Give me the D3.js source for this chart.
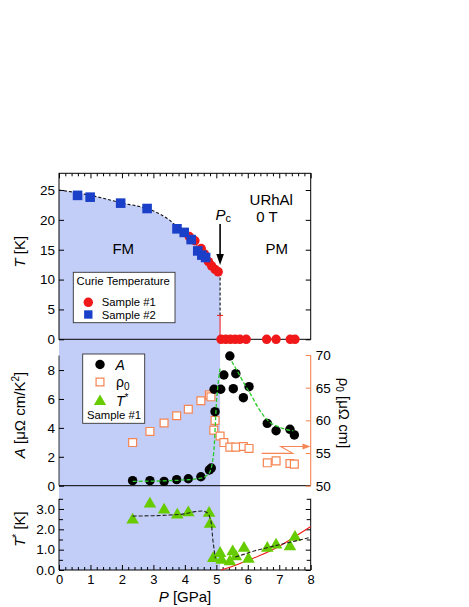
<!DOCTYPE html>
<html><head><meta charset="utf-8">
<script src="https://cdn.jsdelivr.net/npm/d3@7"></script>
<style>
body{margin:0;background:#fff}
svg{display:block}
text{font-family:"Liberation Sans",Arial,Helvetica,sans-serif;fill:#000}
</style>
</head><body>
<svg id="c" width="469" height="607"></svg>
<script>
// ---------- data ----------
const pressureTicks = [0,1,2,3,4,5,6,7,8];
const tcTicks = [0,5,10,15,20,25];
const aTicks = [0,2,4,6,8];
const rhoTicks = [50,55,60,65,70];
const tstarTicks = [0,1,2,3];
const tstarLabels = ["0.0","1.0","2.0","3.0"];
const pcValue = 5.12;
const pcErrorBar = [0, 4.0];

// Curie temperature [P, T]
const tcSample1 = [[4.14,17.2],[4.32,16.5],[4.52,15.2],[4.62,14.3],[4.75,13.0],[4.85,12.3],[4.96,11.7],[5.06,11.3]];
const tcSample1Zero = [5.15,5.3,5.45,5.6,5.75,5.95,6.6,6.9,7.35,7.5];
const tcSample2 = [[0.59,24.1],[0.99,23.8],[1.96,22.8],[2.80,21.9],[3.75,18.5],[3.98,17.9],[4.20,16.7],[4.41,14.8],[4.54,14.1],[4.66,13.7]];
const tcBoundary = [[0,25],[0.5,24.6],[1,24.1],[1.5,23.5],[2,22.8],[2.5,22.3],[2.8,21.9],[3.0,21.5],[3.5,20.0],[3.75,18.9],[4.0,17.9],[4.2,16.9],[4.4,15.7],[4.6,14.3],[4.8,12.8],[5.0,11.6],[5.12,11.2]];

// A coefficient [P, A]
const coeffA = [[2.34,0.35],[2.89,0.35],[3.34,0.30],[3.74,0.42],[4.11,0.48],[4.51,0.62],[4.78,1.09],[4.84,1.22],[4.96,5.12],[4.93,6.67],[5.14,6.67],[5.24,7.66],[5.43,8.97],[5.54,6.71],[5.62,7.75],[5.86,6.09],[6.04,6.85],[6.62,4.31],[6.90,3.80],[7.34,3.90],[7.48,3.51]];
// residual resistivity [P, rho0]
const rho0 = [[2.34,56.6],[2.89,58.3],[3.34,59.6],[3.74,60.7],[4.11,61.7],[4.51,63.0],[4.78,63.9],[4.83,63.6],[4.96,60.0],[4.92,58.5],[5.12,57.6],[5.24,56.6],[5.43,55.9],[5.62,55.9],[5.86,56.0],[6.04,55.7],[6.62,53.5],[6.90,53.8],[7.34,53.4],[7.48,53.3]];
const fitA1 = [[2.34,0.30],[3.0,0.32],[3.5,0.35],[4.0,0.40],[4.4,0.48],[4.6,0.58],[4.7,0.72],[4.8,0.97],[4.87,1.55],[4.94,2.93],[4.97,4.3],[5.0,5.6],[5.05,6.9],[5.12,8.1]];
const fitA2 = [[5.49,8.6],[5.7,7.8],[5.9,7.0],[6.1,6.3],[6.3,5.5],[6.5,4.85],[6.7,4.4],[7.0,4.05],[7.2,3.9],[7.45,3.8]];
const rhoArrow = [[6.44,54.95],[7.43,54.95],[7.05,56.0],[7.93,56.0]];

// T* [P, T*]
const tStar = [[2.34,2.46],[2.89,3.25],[3.34,2.95],[3.76,2.71],[4.11,2.82],[4.77,2.79],[4.80,2.25],[4.90,0.57],[5.12,0.82],[5.17,0.49],[5.43,0.41],[5.52,0.90],[5.62,0.66],[5.88,1.07],[6.02,0.54],[6.62,1.07],[6.90,1.23],[7.34,1.15],[7.50,1.61]];
const fitTStar1 = [[2.34,2.65],[3.0,2.67],[3.5,2.70],[4.0,2.76],[4.32,2.87],[4.55,2.9],[4.72,2.8],[4.8,2.55],[4.85,2.2],[4.88,1.64],[4.94,0.9],[4.97,0.57]];
const fitTStar2 = [[5.6,0.64],[5.9,0.78],[6.12,0.9],[6.5,1.05],[6.97,1.23],[7.5,1.42],[8.0,1.61]];
const fitTStarRed = [[5.15,0],[5.5,0.17],[5.9,0.41],[6.4,0.72],[7.0,1.17],[7.5,1.64],[8.0,2.13]];

// ---------- drawing ----------
const svg = d3.select("#c");
const x = d3.scaleLinear([0,8],[59,310.7]);
const yT = d3.scaleLinear([0,25],[339.3,190]);
const yTtop = 173.3;
const yA = d3.scaleLinear([0,9],[485.7,355.6]);
const yR = d3.scaleLinear([50,70],[485.7,355]);
const yS = d3.scaleLinear([0,3.5],[570,498.8]);

const FILL = "#c2cdf8", RED = "#f01818", BLUE = "#1a3fc8", GREEN = "#66cc00",
      GDASH = "#2ccb2c", ORANGE = "#f58552";
const tickFont = "13.5px";

// blue FM region
svg.append("path")
  .attr("d", d3.area().x(d=>x(d[0])).y0(yT(0)).y1(d=>yT(d[1]))(tcBoundary))
  .attr("fill", FILL);
svg.append("rect").attr("x", x(0)).attr("y", yT(0))
  .attr("width", x(pcValue)-x(0)).attr("height", yS(0)-yT(0)).attr("fill", FILL);

function styleAxis(g, color, fs) {
  g.select(".domain").remove();
  g.selectAll(".tick line").attr("stroke", color || "#000");
  g.selectAll(".tick text").attr("font-size", fs || tickFont).attr("font-family", '"Liberation Sans",Arial,sans-serif').attr("fill","#000");
}
const line = (sx, sy) => d3.line().x(d=>sx(d[0])).y(d=>sy(d[1])).curve(d3.curveMonotoneX);

// ===== TOP PANEL =====
svg.append("rect").attr("x", x(0)).attr("y", yTtop).attr("width", x(8)-x(0)).attr("height", yT(0)-yTtop)
  .attr("fill","none").attr("stroke","#000").attr("stroke-width",1);
svg.append("g").attr("transform",`translate(0,${yTtop})`)
  .call(d3.axisTop(x).tickValues(d3.range(0,8.001,0.2).filter(v=>Math.abs(v-Math.round(v))>0.01)).tickSize(-3).tickFormat(""))
  .call(g=>styleAxis(g));
svg.append("g").attr("transform",`translate(0,${yTtop})`)
  .call(d3.axisTop(x).tickValues(pressureTicks).tickSize(-5).tickFormat(""))
  .call(g=>styleAxis(g));
svg.append("g").attr("transform",`translate(${x(0)},0)`)
  .call(d3.axisLeft(yT).tickValues(tcTicks).tickSize(-5).tickPadding(4))
  .call(g=>styleAxis(g));
svg.append("g").attr("transform",`translate(${x(8)},0)`)
  .call(d3.axisRight(yT).tickValues(tcTicks).tickSize(-5).tickFormat(""))
  .call(g=>styleAxis(g));

svg.append("path").attr("d", d3.line().x(d=>x(d[0])).y(d=>yT(d[1])).curve(d3.curveMonotoneX)(tcBoundary))
  .attr("fill","none").attr("stroke","#111").attr("stroke-width",1.1).attr("stroke-dasharray","3,2");
svg.append("line").attr("x1",x(pcValue)).attr("x2",x(pcValue)).attr("y1",yT(11.2)).attr("y2",yT(pcErrorBar[1]))
  .attr("stroke","#111").attr("stroke-width",1.1).attr("stroke-dasharray","3,2");
svg.append("line").attr("x1",x(pcValue)).attr("x2",x(pcValue)).attr("y1",yT(pcErrorBar[0])).attr("y2",yT(pcErrorBar[1]))
  .attr("stroke",RED).attr("stroke-width",1);
svg.append("line").attr("x1",x(pcValue)-3).attr("x2",x(pcValue)+3).attr("y1",yT(pcErrorBar[1])).attr("y2",yT(pcErrorBar[1]))
  .attr("stroke",RED).attr("stroke-width",1);

const circ = d3.symbol().type(d3.symbolCircle).size(70);
svg.append("g").selectAll("path").data(tcSample1).join("path")
  .attr("d", circ).attr("transform", d=>`translate(${x(d[0])},${yT(d[1])})`).attr("fill",RED);
svg.append("g").selectAll("path").data(tcSample1Zero).join("path")
  .attr("d", circ).attr("transform", d=>`translate(${x(d)},${yT(0)})`).attr("fill",RED);
const sq = d3.symbol().type(d3.symbolSquare).size(92);
svg.append("g").selectAll("path").data(tcSample2).join("path")
  .attr("d", sq).attr("transform", d=>`translate(${x(d[0])},${yT(d[1])})`).attr("fill",BLUE);

svg.append("text").attr("x",123.3).attr("y",253.5).attr("text-anchor","middle").attr("font-size","15px").text("FM");
svg.append("text").attr("x",276.7).attr("y",253.5).attr("text-anchor","middle").attr("font-size","15px").text("PM");
svg.append("text").attr("x",271.3).attr("y",204.8).attr("text-anchor","middle").attr("font-size","15px").text("URhAl");
svg.append("text").attr("x",267).attr("y",222).attr("text-anchor","middle").attr("font-size","15px").text("0 T");
const pcT = svg.append("text").attr("x",215.5).attr("y",220).attr("font-size","15px");
pcT.append("tspan").attr("font-style","italic").text("P");
pcT.append("tspan").attr("font-size","11px").attr("dy",2).text("c");
svg.append("line").attr("x1",x(pcValue)).attr("x2",x(pcValue)).attr("y1",224).attr("y2",256)
  .attr("stroke","#000").attr("stroke-width",1.6);
svg.append("path").attr("d",`M${x(pcValue)-3.8},254 L${x(pcValue)+3.8},254 L${x(pcValue)},265 Z`).attr("fill","#000");

const tl = svg.append("text").attr("transform","translate(24.5,251.7) rotate(-90)").attr("text-anchor","middle").attr("font-size","15px");
tl.append("tspan").attr("font-style","italic").text("T");
tl.append("tspan").text(" [K]");

svg.append("rect").attr("x",73.3).attr("y",272.3).attr("width",101.7).attr("height",50.4)
  .attr("fill","#fff").attr("stroke","#333").attr("stroke-width",0.9);
svg.append("text").attr("x",76.5).attr("y",284.8).attr("font-size","11.3px").text("Curie Temperature");
svg.append("path").attr("d",circ).attr("transform","translate(88.3,302.3)").attr("fill",RED);
svg.append("text").attr("x",101.7).attr("y",306.3).attr("font-size","11.3px").text("Sample #1");
svg.append("path").attr("d",d3.symbol().type(d3.symbolSquare).size(70)).attr("transform","translate(88.3,314.5)").attr("fill",BLUE);
svg.append("text").attr("x",101.7).attr("y",318.6).attr("font-size","11.3px").text("Sample #2");

// ===== MIDDLE PANEL =====
svg.append("line").attr("x1",x(0)).attr("x2",x(8)).attr("y1",yA(0)).attr("y2",yA(0)).attr("stroke","#000");
svg.append("line").attr("x1",x(0)).attr("x2",x(0)).attr("y1",yA(0)).attr("y2",yA(9)).attr("stroke","#000").attr("stroke-width",0.8);
svg.append("g").attr("transform",`translate(${x(0)},0)`)
  .call(d3.axisLeft(yA).tickValues(aTicks).tickSize(-5).tickPadding(4))
  .call(g=>styleAxis(g));
svg.append("line").attr("x1",x(8)).attr("x2",x(8)).attr("y1",yR(50)).attr("y2",yR(70)).attr("stroke",ORANGE).attr("stroke-width",1.1);
svg.append("g").attr("transform",`translate(${x(8)},0)`)
  .call(d3.axisRight(yR).tickValues(rhoTicks).tickSize(-5).tickPadding(5))
  .call(g=>styleAxis(g, ORANGE));

const osq = d3.symbol().type(d3.symbolSquare).size(62);
svg.append("g").selectAll("path").data(rho0).join("path")
  .attr("d", osq).attr("transform", d=>`translate(${x(d[0])},${yR(d[1])})`)
  .attr("fill","#fff").attr("stroke",ORANGE).attr("stroke-width",1.2);
svg.append("g").selectAll("path").data(coeffA).join("path")
  .attr("d", circ).attr("transform", d=>`translate(${x(d[0])},${yA(d[1])})`).attr("fill","#000");
[fitA1, fitA2].forEach(f=>{
  svg.append("path").attr("d", line(x,yA)(f)).attr("fill","none")
    .attr("stroke",GDASH).attr("stroke-width",1.3).attr("stroke-dasharray","4,2");
});
svg.append("path").attr("d", d3.line().x(d=>x(d[0])).y(d=>yR(d[1]))(rhoArrow))
  .attr("fill","none").attr("stroke",ORANGE).attr("stroke-width",1.1);
{
  const ex = x(rhoArrow[3][0]), ey = yR(rhoArrow[3][1]);
  svg.append("path").attr("d",`M${ex+2},${ey} L${ex-6},${ey-3} L${ex-6},${ey+3} Z`).attr("fill",ORANGE);
}

const al = svg.append("text").attr("transform","translate(25,415) rotate(-90)").attr("text-anchor","middle").attr("font-size","15px");
al.append("tspan").attr("font-style","italic").text("A");
al.append("tspan").text(" [μΩ cm/K");
al.append("tspan").attr("font-size","10px").attr("dy",-6).text("2");
al.append("tspan").attr("dy",6).text("]");
const rl = svg.append("text").attr("transform","translate(338.5,413) rotate(90)").attr("text-anchor","middle").attr("font-size","15px");
rl.append("tspan").text("ρ");
rl.append("tspan").attr("font-size","10px").attr("dy",3).text("0");
rl.append("tspan").attr("dy",-3).text(" [μΩ cm]");

svg.append("rect").attr("x",82.7).attr("y",354).attr("width",62).attr("height",69.3)
  .attr("fill","#fff").attr("stroke","#333").attr("stroke-width",0.9);
svg.append("path").attr("d",circ).attr("transform","translate(100,364.5)").attr("fill","#000");
svg.append("text").attr("x",115.5).attr("y",369.5).attr("font-size","14px").attr("font-style","italic").text("A");
svg.append("path").attr("d",osq).attr("transform","translate(100,382)").attr("fill","#fff").attr("stroke",ORANGE).attr("stroke-width",1.2);
{
  const t = svg.append("text").attr("x",116).attr("y",386.5).attr("font-size","14px");
  t.append("tspan").text("ρ");
  t.append("tspan").attr("font-size","10px").attr("dy",3).text("0");
}
svg.append("path").attr("d",d3.symbol().type(d3.symbolTriangle).size(65)).attr("transform","translate(100,401.5)").attr("fill",GREEN);
{
  const t = svg.append("text").attr("x",116).attr("y",406).attr("font-size","14px");
  t.append("tspan").attr("font-style","italic").text("T");
  t.append("tspan").attr("font-size","10px").attr("dy",-5).text("*");
}
svg.append("text").attr("x",114).attr("y",419).attr("text-anchor","middle").attr("font-size","11.3px").text("Sample #1");

// ===== BOTTOM PANEL =====
svg.append("line").attr("x1",x(0)).attr("x2",x(8)).attr("y1",yS(0)).attr("y2",yS(0)).attr("stroke","#000");
svg.append("line").attr("x1",x(0)).attr("x2",x(0)).attr("y1",yS(0)).attr("y2",yS(3.5)).attr("stroke","#000");
svg.append("line").attr("x1",x(8)).attr("x2",x(8)).attr("y1",yS(0)).attr("y2",yS(3.5)).attr("stroke","#000");
const halfTicks = [0.5,1.5,2.5,3.5];
svg.append("g").attr("transform",`translate(${x(0)},0)`)
  .call(d3.axisLeft(yS).tickValues(tstarTicks).tickSize(-5).tickPadding(4).tickFormat((d,i)=>tstarLabels[i]))
  .call(g=>styleAxis(g));
svg.append("g").attr("transform",`translate(${x(0)},0)`)
  .call(d3.axisLeft(yS).tickValues(halfTicks).tickSize(-4).tickFormat(""))
  .call(g=>styleAxis(g));
svg.append("g").attr("transform",`translate(${x(8)},0)`)
  .call(d3.axisRight(yS).tickValues(tstarTicks).tickSize(-5).tickFormat(""))
  .call(g=>styleAxis(g));
svg.append("g").attr("transform",`translate(${x(8)},0)`)
  .call(d3.axisRight(yS).tickValues(halfTicks).tickSize(-4).tickFormat(""))
  .call(g=>styleAxis(g));
svg.append("g").attr("transform",`translate(0,${yS(0)})`)
  .call(d3.axisBottom(x).tickValues(d3.range(0,8.001,0.2).filter(v=>Math.abs(v-Math.round(v))>0.01)).tickSize(-3).tickFormat(""))
  .call(g=>styleAxis(g));
svg.append("g").attr("transform",`translate(0,${yS(0)})`)
  .call(d3.axisBottom(x).tickValues(pressureTicks).tickSize(-5).tickPadding(5).tickFormat(d3.format("d")))
  .call(g=>styleAxis(g, "#000", "13px"));

svg.append("path").attr("d", line(x,yS)(fitTStarRed)).attr("fill","none").attr("stroke",RED).attr("stroke-width",1.1);
const tri = d3.symbol().type(d3.symbolTriangle).size(68);
svg.append("g").selectAll("path").data(tStar).join("path")
  .attr("d", tri).attr("transform", d=>`translate(${x(d[0])},${yS(d[1])})`).attr("fill",GREEN);
[fitTStar1, fitTStar2].forEach(f=>{
  svg.append("path").attr("d", line(x,yS)(f)).attr("fill","none")
    .attr("stroke","#222").attr("stroke-width",1.1).attr("stroke-dasharray","4,2");
});

const sl = svg.append("text").attr("transform","translate(24.5,529) rotate(-90)").attr("text-anchor","middle").attr("font-size","15px");
sl.append("tspan").attr("font-style","italic").text("T");
sl.append("tspan").attr("font-size","10px").attr("dy",-5).text("*");
sl.append("tspan").attr("dy",5).text(" [K]");

const pl = svg.append("text").attr("x",185).attr("y",601.5).attr("text-anchor","middle").attr("font-size","15px");
pl.append("tspan").attr("font-style","italic").text("P");
pl.append("tspan").text(" [GPa]");
</script>
</body></html>
